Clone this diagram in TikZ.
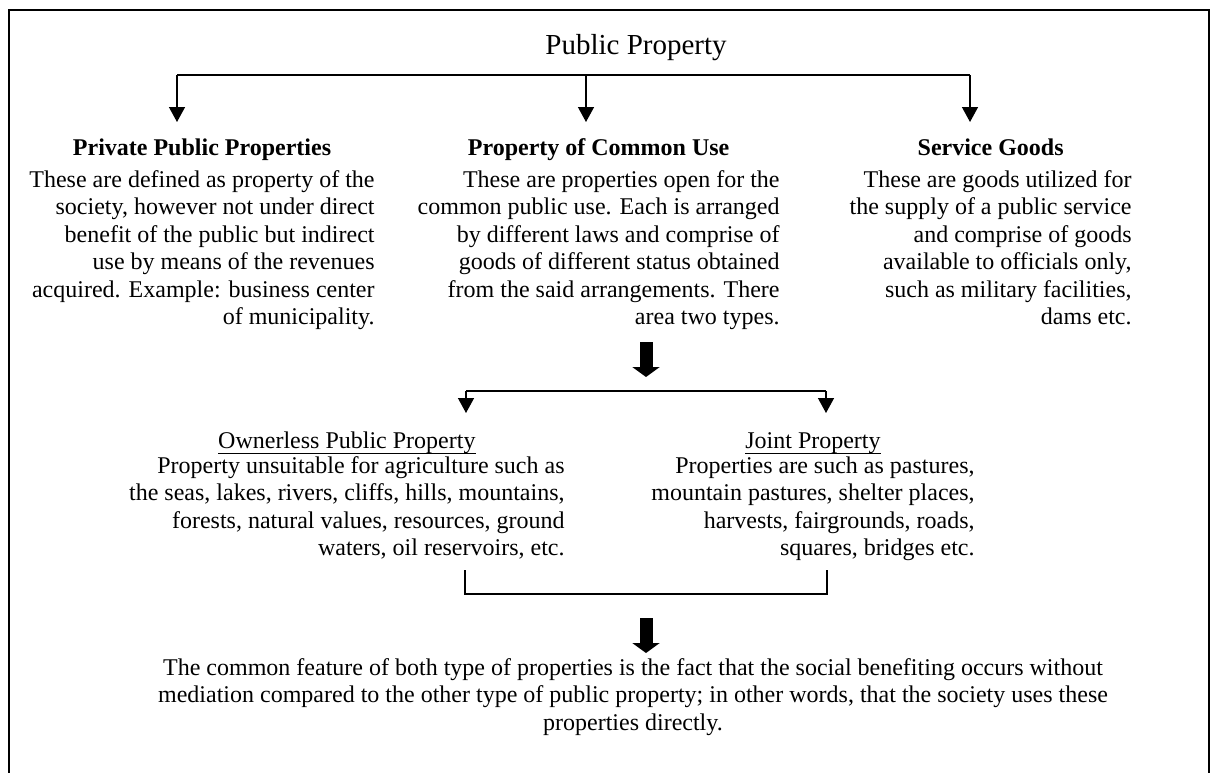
\documentclass[tikz,border=0pt]{standalone}
\usepackage{fontspec}
\setmainfont{Liberation Serif}
\usepackage{tikz}
\usetikzlibrary{arrows.meta,positioning}

\newcommand{\ulbox}[1]{\setbox0\hbox{#1}\rlap{\rule[-3pt]{\wd0}{0.5pt}}\box0}

\tikzset{
  conn/.style={line width=0.7pt},
  tipline/.style={conn,-{Triangle[width=8pt,length=7.5pt]}},
  bigtip/.style={line width=6.5pt,-{Triangle[width=13.5pt,length=5pt]}},
  body/.style={inner sep=0pt,align=right,anchor=north east,font=\fontsize{12}{13.75}\selectfont},
  head/.style={inner sep=0pt,anchor=base,font=\fontsize{12}{13.75}\selectfont\bfseries},
  subhead/.style={inner sep=0pt,anchor=base,font=\fontsize{12}{13.75}\selectfont}
}

\begin{document}
\begin{tikzpicture}[x=0.5pt,y=-0.5pt]
\useasboundingbox (0,0) rectangle (1210,772);
\draw[line width=1pt] (9,10) rectangle (1209,800);
\node[inner sep=0pt,font=\fontsize{14.5}{17}\selectfont] (title) at (636,48) {Public Property};

\node[body] (ppB) at (375,170) {These are defined as property of the\\
society, however not under direct\\
benefit of the public but indirect\\
use by means of the revenues\\
acquired. Example: business center\\
of municipality.};
\node[head] (ppH) at (ppB.north |- 0,155) {Private Public Properties};

\node[body] (cuB) at (780,170) {These are properties open for the\\
common public use. Each is arranged\\
by different laws and comprise of\\
goods of different status obtained\\
from the said arrangements. There\\
area two types.};
\node[head] (cuH) at (cuB.north |- 0,155) {Property of Common Use};

\node[body] (sgB) at (1132,170) {These are goods utilized for\\
the supply of a public service\\
and comprise of goods\\
available to officials only,\\
such as military facilities,\\
dams etc.};
\node[head] (sgH) at (sgB.north |- 0,155) {Service Goods};

\foreach \n/\x in {pp/177,cu/586,sg/970}{
  \coordinate (\n-top) at (\x,75);
  \coordinate (\n-tip) at (\x,122);
  \draw[tipline] (\n-top) -- (\n-tip);
}
\draw[conn] (pp-top) -- (sg-top);

\coordinate (m1) at (646,342);
\coordinate (m2) at (646,377);
\draw[bigtip] (m1) -- (m2);

\foreach \n/\x in {op/466,jp/826}{
  \coordinate (\n-top) at (\x,391);
  \coordinate (\n-tip) at (\x,413);
  \draw[tipline] (\n-top) -- (\n-tip);
}
\draw[conn] (op-top) -- (jp-top);

\node[body] (opB) at (565,456) {Property unsuitable for agriculture such as\\
the seas, lakes, rivers, cliffs, hills, mountains,\\
forests, natural values, resources, ground\\
waters, oil reservoirs, etc.};
\node[subhead] (opH) at (opB.north |- 0,448) {\ulbox{Ownerless Public Property}};

\node[body] (jpB) at (975,456) {Properties are such as pastures,\\
mountain pastures, shelter places,\\
harvests, fairgrounds, roads,\\
squares, bridges etc.};
\node[subhead] (jpH) at (jpB.north |- 0,448) {\ulbox{Joint Property}};

\coordinate (brL) at (465,570);
\coordinate (brR) at (827,570);
\draw[conn] (brL) -- ++(0,24) -| (brR);

\coordinate (m3) at (646,618);
\coordinate (m4) at (646,653);
\draw[bigtip] (m3) -- (m4);

\node[body,anchor=north,align=center] (ftB) at (633,658) {The common feature of both type of properties is the fact that the social benefiting occurs without\\
mediation compared to the other type of public property; in other words, that the society uses these\\
properties directly.};
\end{tikzpicture}
\end{document}
